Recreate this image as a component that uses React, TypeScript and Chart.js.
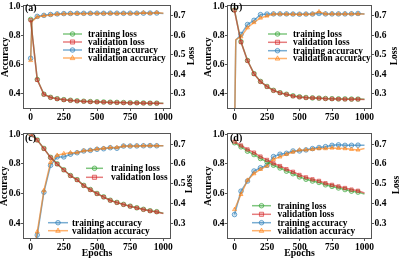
import React, { useEffect, useRef } from "react";
import { Chart, registerables } from "chart.js";

Chart.register(...registerables);

const FONT = "'Liberation Serif', 'Times New Roman', serif";

// ---------- data ----------
const EPOCHS = [0, 50, 100, 150, 200, 250, 300, 350, 400, 450, 500, 550, 600, 650, 700, 750, 800, 850, 900, 950, 1000];
const EPOCHS_EARLY = [0, 10, 50, 100, 150, 200, 250, 300, 350, 400, 450, 500, 550, 600, 650, 700, 750, 800, 850, 900, 950, 1000];

const X_TICKS = [0, 250, 500, 750, 1000];
const ACC_TICKS = [0.4, 0.6, 0.8, 1.0];
const LOSS_TICKS = [0.3, 0.4, 0.5, 0.6, 0.7];

const SERIES_NAMES = ["training loss", "validation loss", "training accuracy", "validation accuracy"];
const PANEL_LABELS = ["(a)", "(b)", "(c)", "(d)"];

// (a)  epochs: EPOCHS_EARLY
const A_TRAIN_LOSS = [0.682, 0.62, 0.372, 0.296, 0.28, 0.273, 0.268, 0.265, 0.262, 0.26, 0.258, 0.257, 0.256, 0.255, 0.254, 0.253, 0.252, 0.252, 0.251, 0.25, 0.25, 0.249];
const A_VAL_LOSS = [0.678, 0.618, 0.37, 0.295, 0.279, 0.272, 0.267, 0.264, 0.261, 0.259, 0.257, 0.256, 0.255, 0.254, 0.253, 0.252, 0.251, 0.251, 0.25, 0.25, 0.249, 0.248];
const A_TRAIN_ACC = [0.642, 0.9, 0.93, 0.937, 0.943, 0.947, 0.949, 0.95, 0.951, 0.951, 0.951, 0.952, 0.951, 0.952, 0.952, 0.951, 0.952, 0.952, 0.952, 0.953, 0.953, 0.95];
const A_VAL_ACC = [0.627, 0.895, 0.926, 0.935, 0.94, 0.945, 0.947, 0.948, 0.949, 0.948, 0.95, 0.949, 0.949, 0.95, 0.949, 0.95, 0.949, 0.95, 0.955, 0.951, 0.956, 0.951];

// (b)  epochs: EPOCHS_EARLY
const B_TRAIN_LOSS = [0.73, 0.697, 0.567, 0.47, 0.402, 0.362, 0.336, 0.316, 0.304, 0.296, 0.288, 0.283, 0.279, 0.277, 0.276, 0.274, 0.273, 0.272, 0.272, 0.271, 0.271, 0.27];
const B_VAL_LOSS = [0.729, 0.694, 0.565, 0.469, 0.401, 0.361, 0.335, 0.315, 0.303, 0.295, 0.286, 0.281, 0.278, 0.277, 0.275, 0.273, 0.272, 0.271, 0.27, 0.27, 0.27, 0.269];
const B_TRAIN_ACC = [0.1, 0.765, 0.806, 0.874, 0.903, 0.942, 0.946, 0.947, 0.947, 0.947, 0.946, 0.945, 0.946, 0.946, 0.95, 0.947, 0.947, 0.947, 0.947, 0.948, 0.95, 0.947];
const B_VAL_ACC = [0.1, 0.77, 0.79, 0.852, 0.888, 0.919, 0.933, 0.946, 0.946, 0.945, 0.945, 0.944, 0.945, 0.946, 0.962, 0.947, 0.947, 0.946, 0.947, 0.947, 0.947, 0.946];

// (c)  epochs: EPOCHS
const C_TRAIN_LOSS = [0.752, 0.721, 0.678, 0.633, 0.6, 0.57, 0.541, 0.52, 0.491, 0.47, 0.45, 0.433, 0.416, 0.405, 0.395, 0.386, 0.378, 0.37, 0.363, 0.358, 0.35];
const C_VAL_LOSS = [0.752, 0.72, 0.677, 0.632, 0.599, 0.569, 0.54, 0.519, 0.49, 0.469, 0.449, 0.432, 0.415, 0.404, 0.394, 0.385, 0.377, 0.369, 0.362, 0.357, 0.349];
const C_TRAIN_ACC = [0.1, 0.32, 0.609, 0.79, 0.847, 0.847, 0.865, 0.875, 0.887, 0.891, 0.898, 0.902, 0.909, 0.905, 0.92, 0.92, 0.921, 0.922, 0.923, 0.922, 0.922];
const C_VAL_ACC = [0.1, 0.342, 0.62, 0.81, 0.858, 0.869, 0.875, 0.876, 0.888, 0.892, 0.9, 0.905, 0.91, 0.91, 0.92, 0.92, 0.921, 0.922, 0.923, 0.922, 0.922];

// (d)  epochs: EPOCHS
const D_TRAIN_LOSS = [0.707, 0.686, 0.664, 0.647, 0.627, 0.61, 0.593, 0.579, 0.563, 0.55, 0.534, 0.522, 0.513, 0.506, 0.494, 0.486, 0.478, 0.47, 0.462, 0.457, 0.448];
const D_VAL_LOSS = [0.712, 0.693, 0.673, 0.657, 0.637, 0.62, 0.603, 0.589, 0.573, 0.56, 0.544, 0.532, 0.522, 0.514, 0.502, 0.494, 0.486, 0.478, 0.47, 0.464, 0.453];
const D_TRAIN_ACC = [0.458, 0.616, 0.684, 0.752, 0.774, 0.79, 0.849, 0.865, 0.871, 0.887, 0.887, 0.894, 0.903, 0.91, 0.916, 0.925, 0.928, 0.925, 0.925, 0.926, 0.925];
const D_VAL_ACC = [0.492, 0.594, 0.69, 0.734, 0.763, 0.786, 0.831, 0.847, 0.865, 0.88, 0.894, 0.894, 0.898, 0.903, 0.903, 0.907, 0.905, 0.903, 0.898, 0.894, 0.903];

// ---------- styles ----------
const STYLES = [
  { line: "rgba(44,160,44,0.6)", fill: "rgba(44,160,44,0.2)", shape: "circle", order: 2 },
  { line: "rgba(214,39,40,0.6)", fill: "rgba(214,39,40,0.2)", shape: "rect", order: 1 },
  { line: "rgba(31,119,180,0.6)", fill: "rgba(31,119,180,0.2)", shape: "circle", order: 4 },
  { line: "rgba(255,127,14,0.6)", fill: "rgba(255,127,14,0.2)", shape: "triangle", order: 3 },
];
const FRAME = "#555";

type LegendGroup = { idx: number[]; rows: number[]; x1: number; x2: number; tx: number };
type Panel = {
  left: number; top: number; w: number; h: number;
  padTop: number; lw: number; rw: number; xh: number;
  epochs: number[]; series: number[][];
  label: number; labelPos: [number, number];
  legend: LegendGroup[];
  xTitle: boolean; accPad: number; lossPos: [number, number];
};

const PANELS: Panel[] = [
  {
    left: 0, top: 0, w: 200, h: 128, padTop: 3, lw: 24, rw: 30, xh: 20,
    epochs: EPOCHS_EARLY, series: [A_TRAIN_LOSS, A_VAL_LOSS, A_TRAIN_ACC, A_VAL_ACC],
    label: 0, labelPos: [25, 8],
    legend: [{ idx: [0, 1, 2, 3], rows: [34, 42, 50, 58], x1: 63, x2: 82, tx: 88 }],
    xTitle: false, accPad: -0.5, lossPos: [191.5, 56],
  },
  {
    left: 200, top: 0, w: 199, h: 128, padTop: 3, lw: 28, rw: 28, xh: 20,
    epochs: EPOCHS_EARLY, series: [B_TRAIN_LOSS, B_VAL_LOSS, B_TRAIN_ACC, B_VAL_ACC],
    label: 1, labelPos: [30, 7.5],
    legend: [{ idx: [0, 1, 2, 3], rows: [34, 42.3, 50.7, 58.5], x1: 68, x2: 87, tx: 93 }],
    xTitle: false, accPad: 2.3, lossPos: [195, 56],
  },
  {
    left: 0, top: 128, w: 200, h: 131, padTop: 5, lw: 24, rw: 30, xh: 21,
    epochs: EPOCHS, series: [C_TRAIN_LOSS, C_VAL_LOSS, C_TRAIN_ACC, C_VAL_ACC],
    label: 2, labelPos: [25, 10.3],
    legend: [
      { idx: [0, 1], rows: [40.3, 49.3], x1: 86, x2: 103, tx: 111 },
      { idx: [2, 3], rows: [94.7, 102.7], x1: 48, x2: 68, tx: 72 },
    ],
    xTitle: true, accPad: -1, lossPos: [190, 56],
  },
  {
    left: 200, top: 128, w: 199, h: 131, padTop: 5, lw: 28, rw: 28, xh: 21,
    epochs: EPOCHS, series: [D_TRAIN_LOSS, D_VAL_LOSS, D_TRAIN_ACC, D_VAL_ACC],
    label: 3, labelPos: [30, 10.3],
    legend: [{ idx: [0, 1, 2, 3], rows: [77.7, 86.3, 94.7, 102.7], x1: 52, x2: 71, tx: 77.5 }],
    xTitle: true, accPad: 2.5, lossPos: [197, 57],
  },
];

function drawMarker(ctx: CanvasRenderingContext2D, shape: string, x: number, y: number, r: number, stroke: string, fill: string) {
  ctx.beginPath();
  if (shape === "circle") ctx.arc(x, y, r, 0, Math.PI * 2);
  else if (shape === "rect") ctx.rect(x - r * 0.9, y - r * 0.9, r * 1.8, r * 1.8);
  else {
    ctx.moveTo(x, y - r * 1.15);
    ctx.lineTo(x + r, y + r * 0.7);
    ctx.lineTo(x - r, y + r * 0.7);
    ctx.closePath();
  }
  ctx.fillStyle = fill;
  ctx.fill();
  ctx.lineWidth = 1;
  ctx.strokeStyle = stroke;
  ctx.stroke();
}

function decorPlugin(p: Panel) {
  return {
    id: "decor",
    afterDatasetsDraw(chart: any) {
      const ctx: CanvasRenderingContext2D = chart.ctx;
      const a = chart.chartArea;
      ctx.save();
      ctx.strokeStyle = FRAME;
      ctx.lineWidth = 1;
      ctx.strokeRect(Math.round(a.left) - 0.5, Math.round(a.top) - 0.5, Math.round(a.right - a.left) + 1, Math.round(a.bottom - a.top) + 1);
      ctx.restore();
    },
    afterDraw(chart: any) {
      const ctx: CanvasRenderingContext2D = chart.ctx;
      ctx.save();
      ctx.fillStyle = "#000";
      ctx.font = `bold 10px ${FONT}`;
      ctx.textAlign = "left";
      ctx.textBaseline = "middle";
      ctx.fillText(PANEL_LABELS[p.label], p.labelPos[0], p.labelPos[1]);
      ctx.font = `bold 9.3px ${FONT}`;
      for (const g of p.legend) {
        g.idx.forEach((si, k) => {
          const y = g.rows[k];
          const st = STYLES[si];
          ctx.beginPath();
          ctx.moveTo(g.x1, y);
          ctx.lineTo(g.x2, y);
          ctx.strokeStyle = st.line;
          ctx.lineWidth = 1.5;
          ctx.stroke();
          drawMarker(ctx, st.shape, (g.x1 + g.x2) / 2, y, 2.3, st.line, st.fill);
          ctx.fillStyle = "#000";
          ctx.textAlign = "left";
          ctx.textBaseline = "middle";
          ctx.fillText(SERIES_NAMES[si], g.tx, y + 0.5);
        });
      }
      ctx.translate(p.lossPos[0], p.lossPos[1]);
      ctx.rotate(-Math.PI / 2);
      ctx.font = `bold 9.5px ${FONT}`;
      ctx.textAlign = "center";
      ctx.textBaseline = "middle";
      ctx.fillStyle = "#000";
      ctx.fillText("Loss", 0, 0);
      ctx.restore();
    },
  };
}

function buildConfig(p: Panel): any {
  const tickFont = { family: FONT, size: 9.5, weight: "bold" as const };
  const titleFont = { family: FONT, size: 9.8, weight: "bold" as const };
  const datasets = p.series.map((vals, i) => {
    const st = STYLES[i];
    return {
      label: SERIES_NAMES[i],
      data: vals.map((v, k) => ({ x: p.epochs[k], y: v })),
      yAxisID: i < 2 ? "y1" : "y",
      borderColor: st.line,
      backgroundColor: st.fill,
      borderWidth: 1.5,
      pointStyle: st.shape,
      pointRadius: (c: any) => {
        const x = c.raw ? c.raw.x : 0;
        return x % 50 === 0 && x < 1000 ? 2.3 : 0;
      },
      pointBorderWidth: 1,
      pointBorderColor: st.line,
      pointBackgroundColor: st.fill,
      tension: 0,
      order: st.order,
      clip: 0,
    };
  });
  const tickGrid = { display: true, drawOnChartArea: false, drawTicks: true, tickLength: 3, tickColor: FRAME, tickWidth: 1 };
  return {
    type: "line",
    data: { datasets },
    plugins: [decorPlugin(p)],
    options: {
      animation: false,
      responsive: false,
      maintainAspectRatio: false,
      devicePixelRatio: 1,
      layout: { padding: { top: p.padTop, left: 0, right: 0, bottom: 0 } },
      plugins: { legend: { display: false }, tooltip: { enabled: false } },
      scales: {
        x: {
          type: "linear",
          position: "bottom",
          min: -50,
          max: 1050,
          afterBuildTicks: (s: any) => { s.ticks = X_TICKS.map((v) => ({ value: v })); },
          afterFit: (s: any) => { s.height = p.xh; },
          ticks: { font: tickFont, color: "#000", padding: 0.5, maxRotation: 0, autoSkip: false, callback: (v: any) => String(v) },
          grid: tickGrid,
          border: { display: false },
          title: { display: p.xTitle, text: "Epochs", font: titleFont, color: "#000", padding: { top: 0, bottom: 0 } },
        },
        y: {
          type: "linear",
          position: "left",
          min: 0.3,
          max: 1.0,
          afterBuildTicks: (s: any) => { s.ticks = ACC_TICKS.map((v) => ({ value: v })); },
          afterFit: (s: any) => { s.width = p.lw; },
          ticks: { font: tickFont, color: "#000", padding: 0.5, autoSkip: false, callback: (v: any) => Number(v).toFixed(1) },
          grid: tickGrid,
          border: { display: false },
          title: { display: true, text: "Accuracy", font: titleFont, color: "#000", padding: { top: p.accPad, bottom: 0 } },
        },
        y1: {
          type: "linear",
          position: "right",
          min: 0.225,
          max: 0.75,
          afterBuildTicks: (s: any) => { s.ticks = LOSS_TICKS.map((v) => ({ value: v })); },
          afterFit: (s: any) => { s.width = p.rw; },
          ticks: { font: tickFont, color: "#000", padding: 0.5, autoSkip: false, callback: (v: any) => Number(v).toFixed(1) },
          grid: tickGrid,
          border: { display: false },
        },
      },
    },
  };
}

function PanelChart({ p }: { p: Panel }) {
  const ref = useRef<HTMLCanvasElement>(null);
  useEffect(() => {
    const chart = new Chart(ref.current as HTMLCanvasElement, buildConfig(p));
    return () => chart.destroy();
  }, [p]);
  return (
    <canvas
      ref={ref}
      width={p.w}
      height={p.h}
      style={{ position: "absolute", left: p.left, top: p.top, width: p.w, height: p.h }}
    />
  );
}

export default function App() {
  return (
    <div style={{ position: "fixed", left: 0, top: 0, width: 399, height: 259, background: "#fff", overflow: "hidden" }}>
      {PANELS.map((p, i) => (
        <PanelChart key={i} p={p} />
      ))}
    </div>
  );
}
